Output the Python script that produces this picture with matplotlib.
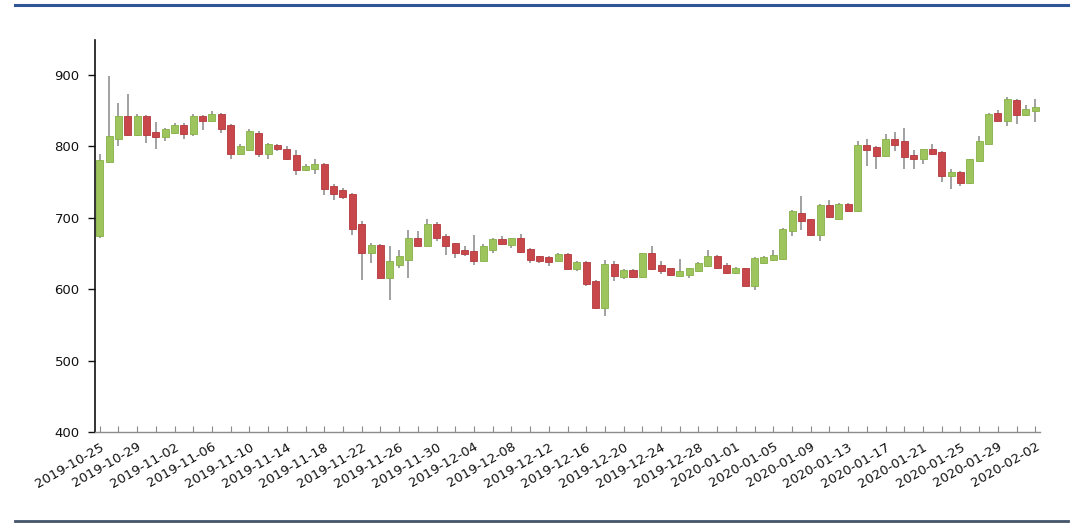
import matplotlib
matplotlib.use("Agg")
import matplotlib.pyplot as plt
from matplotlib.lines import Line2D
import pandas as pd

# daily candles 2019-10-25 .. 2020-02-02
dates = pd.date_range("2019-10-25", "2020-02-02", freq="D").strftime("%Y-%m-%d").tolist()

opens = [674, 778, 811, 843, 816, 842, 820, 813, 819, 830,
         817, 842, 836, 845, 830, 790, 795, 819, 790, 802,
         797, 788, 767, 769, 776, 745, 739, 733, 691, 650,
         662, 616, 634, 641, 672, 661, 692, 675, 664, 655,
         654, 640, 655, 670, 662, 671, 656, 646, 645, 640,
         649, 628, 638, 612, 574, 635, 617, 627, 617, 651,
         634, 629, 619, 620, 625, 632, 647, 634, 622, 629,
         604, 637, 641, 642, 681, 707, 698, 676, 718, 699,
         720, 709, 802, 799, 786, 811, 807, 788, 782, 796,
         792, 758, 764, 749, 779, 804, 847, 836, 865, 844,
         850]
closes = [781, 815, 843, 816, 842, 816, 813, 824, 830, 817,
          843, 836, 845, 825, 790, 801, 821, 790, 803, 796,
          783, 767, 773, 776, 741, 734, 729, 685, 650, 662,
          616, 639, 646, 672, 661, 692, 671, 661, 651, 649,
          640, 660, 670, 663, 671, 652, 641, 639, 638, 649,
          628, 638, 607, 574, 635, 618, 627, 617, 650, 628,
          626, 620, 625, 629, 637, 647, 629, 622, 630, 605,
          643, 645, 648, 685, 709, 695, 676, 718, 701, 720,
          709, 802, 795, 786, 811, 802, 785, 782, 796, 789,
          758, 764, 749, 782, 808, 846, 836, 866, 844, 853,
          855]
highs = [790, 899, 861, 873, 845, 844, 834, 826, 833, 833,
         846, 844, 849, 847, 831, 803, 824, 821, 805, 803,
         800, 795, 775, 783, 777, 747, 742, 735, 695, 664,
         663, 660, 655, 683, 681, 698, 694, 677, 665, 660,
         676, 663, 672, 674, 672, 677, 657, 647, 647, 651,
         650, 639, 640, 613, 641, 639, 628, 628, 651, 661,
         640, 630, 642, 630, 638, 655, 648, 637, 631, 630,
         645, 646, 655, 686, 711, 730, 699, 719, 725, 721,
         721, 807, 810, 800, 817, 820, 826, 795, 797, 803,
         793, 769, 765, 783, 815, 847, 851, 869, 866, 858,
         867]
lows = [672, 777, 801, 815, 815, 805, 797, 808, 818, 810,
        814, 823, 835, 819, 783, 789, 793, 785, 782, 794,
        781, 760, 765, 762, 732, 725, 727, 676, 613, 636,
        615, 585, 629, 615, 660, 660, 667, 648, 643, 647,
        634, 639, 650, 662, 657, 651, 637, 636, 632, 639,
        627, 625, 605, 572, 562, 612, 614, 616, 616, 627,
        621, 618, 618, 615, 624, 631, 628, 621, 621, 604,
        599, 635, 640, 641, 675, 683, 674, 668, 700, 697,
        708, 708, 772, 769, 785, 794, 768, 768, 775, 788,
        750, 740, 745, 748, 778, 803, 835, 829, 831, 843,
        834]

up_color = "#9dc45d"
up_edge = "#86b047"
down_color = "#c8474b"
down_edge = "#b3383c"
wick_color = "#9a9a9a"

plt.rcParams["font.family"] = ["DejaVu Sans"]

fig = plt.figure(figsize=(10.8, 5.24), dpi=100)
ax = fig.add_axes([95 / 1080, 1 - 432 / 524, 945 / 1080, 392 / 524])

x = list(range(len(dates)))
ax.vlines(x, lows, highs, color=wick_color, linewidth=1.3, zorder=1)

for i in x:
    o, c = opens[i], closes[i]
    lo, hi = min(o, c), max(o, c)
    h = max(hi - lo, 2)
    up = c >= o
    ax.bar(i, h, bottom=lo, width=0.75,
           color=up_color if up else down_color,
           edgecolor=up_edge if up else down_edge,
           linewidth=0.6, zorder=2)

ax.set_xlim(-0.5, len(dates) - 0.5)
ax.set_ylim(400, 949)
ax.set_yticks([400, 500, 600, 700, 800, 900])

ax.set_xticks(x[::4])
ax.set_xticklabels(dates[::4], rotation=30, ha="right", rotation_mode="anchor")
ax.set_xticks(x[2::4], minor=True)

for s in ["top", "right"]:
    ax.spines[s].set_visible(False)
ax.spines["left"].set_color("#111111")
ax.spines["left"].set_linewidth(1.2)
ax.spines["bottom"].set_color("#8c8c8c")
ax.spines["bottom"].set_linewidth(1.0)

ax.tick_params(axis="y", direction="out", length=5, width=1, colors="#111111",
               labelsize=9.5, pad=6)
ax.tick_params(axis="x", which="both", direction="in", length=4, width=0.8,
               color="#8c8c8c", labelsize=9.5, labelcolor="#111111", pad=6)

# decorative page rules
fig.add_artist(Line2D([15 / 1080, 1068 / 1080], [1 - 5 / 524] * 2,
                      color="#2f5597", linewidth=2.2))
fig.add_artist(Line2D([15 / 1080, 1068 / 1080], [1 - 521 / 524] * 2,
                      color="#44546a", linewidth=2.0))

fig.savefig("out.png", dpi=100)
